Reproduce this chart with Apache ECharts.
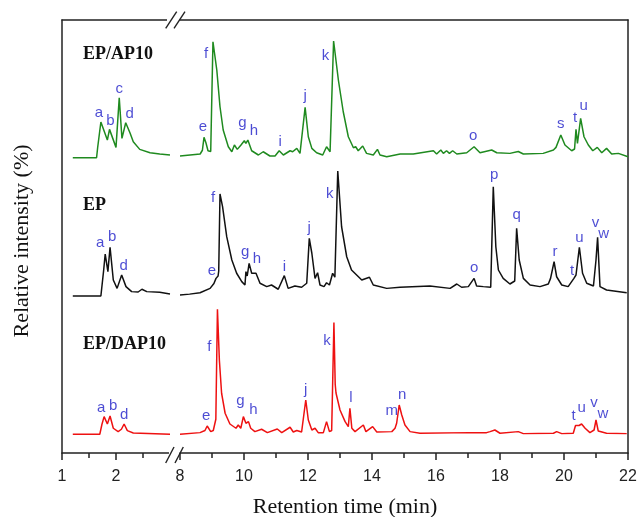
<!DOCTYPE html>
<html>
<head>
<meta charset="utf-8">
<script src="https://cdn.jsdelivr.net/npm/echarts@6/dist/echarts.min.js"></script>
<style>
  html, body { margin: 0; padding: 0; background: #fff; }
  #chart { width: 640px; height: 517px; }
</style>
</head>
<body>
<div id="chart"></div>
<script>
// Retention-time windows of the broken x axis (min)
const timeRangeLeft = [1, 3];
const timeRangeRight = [8, 22];
const tickValuesLeft = [1, 2];
const tickStepRight = 2;

const sampleNames = ['EP/AP10', 'EP', 'EP/DAP10'];

// Chromatograms: [retention time (min), relative intensity (%)]
const apLeft = [
  [1.20, 0], [1.64, 0], [1.66, 8], [1.72, 28.6], [1.84, 14.2], [1.88, 22.7], [2.00, 8.3],
  [2.06, 48], [2.11, 15.5], [2.18, 28], [2.26, 19.8], [2.32, 12.8], [2.44, 6.7], [2.63, 4],
  [2.81, 3], [3.00, 2.2]
];
const apRight = [
  [8.00, 1.4], [8.63, 3], [8.70, 6], [8.75, 16.3], [8.81, 12], [8.875, 5.6], [8.96, 5],
  [9.03, 92.8], [9.15, 70.2], [9.25, 40.8], [9.35, 22.2], [9.51, 8.8], [9.62, 4.8], [9.70, 10.2],
  [9.79, 6.7], [9.90, 10], [10.01, 13.6], [10.06, 11.5], [10.12, 14.2], [10.24, 5.6], [10.45, 2.2],
  [10.60, 4.8], [10.81, 1.4], [10.97, 1.4], [11.10, 5.6], [11.23, 2.2], [11.44, 5.6], [11.52, 4.8],
  [11.65, 7.5], [11.75, 3.5], [11.91, 40.3], [12.01, 16.8], [12.12, 7.5], [12.27, 4], [12.46, 2.2],
  [12.58, 8.8], [12.69, 4.8], [12.80, 93.4], [12.95, 62], [13.10, 37], [13.26, 16.8], [13.42, 8],
  [13.49, 8.8], [13.57, 5.6], [13.71, 9.4], [13.83, 3.5], [14.04, 2.2], [14.17, 6.7], [14.25, 2.2],
  [14.46, 0.8], [14.88, 3], [15.29, 3], [15.92, 5.6], [16.02, 3], [16.15, 6.2], [16.23, 3.5],
  [16.33, 5.6], [16.42, 3.5], [16.52, 5.6], [16.65, 3], [16.96, 4], [17.19, 8.8], [17.375, 4],
  [17.74, 6.2], [17.90, 4], [18.31, 3.5], [18.57, 5], [18.73, 3], [19.35, 3.5], [19.67, 6.2],
  [19.75, 8.3], [19.90, 18.2], [20.03, 10.2], [20.24, 5.6], [20.33, 7], [20.375, 22.7], [20.42, 11.5],
  [20.52, 31.5], [20.625, 16.8], [20.76, 10.2], [20.90, 5.6], [21.04, 8.3], [21.18, 4], [21.33, 7.5],
  [21.49, 3], [21.70, 3.5], [22.00, 0.8]
];

const epLeft = [
  [1.20, 0], [1.72, 0], [1.77, 20], [1.80, 33.6], [1.85, 19.5], [1.89, 39], [1.95, 12.8],
  [2.02, 6.1], [2.105, 16.8], [2.185, 7.5], [2.29, 3.5], [2.41, 3.2], [2.48, 5.4], [2.57, 3.5],
  [2.81, 3], [3.00, 1.6]
];
const epRight = [
  [8.00, 0.8], [8.30, 1.5], [8.625, 2.6], [8.94, 6.1], [9.06, 10], [9.125, 14.1], [9.19, 16],
  [9.21, 20], [9.25, 81.6], [9.33, 71.5], [9.46, 47.5], [9.62, 28.8], [9.77, 18.2], [9.93, 11.5],
  [10.03, 8.8], [10.06, 19.5], [10.10, 16], [10.16, 26.1], [10.24, 18.2], [10.30, 17], [10.375, 18.2],
  [10.50, 10.2], [10.71, 7.5], [10.86, 8.8], [11.07, 5.4], [11.26, 16.3], [11.38, 6.1], [11.59, 8],
  [11.80, 7], [11.96, 10.2], [12.04, 46.1], [12.12, 34.2], [12.22, 14.1], [12.30, 18.6], [12.375, 8.8],
  [12.50, 7.5], [12.58, 10.6], [12.67, 8.8], [12.77, 18.2], [12.84, 15], [12.93, 100], [13.05, 55.4],
  [13.21, 31.4], [13.36, 20.8], [13.52, 16.8], [13.68, 12.8], [13.92, 15], [14.04, 8.8], [14.46, 6.1],
  [14.875, 7], [15.81, 8], [16.44, 6.1], [16.65, 9.6], [16.80, 7], [17.01, 7.5], [17.19, 14.1],
  [17.27, 8], [17.48, 7.5], [17.71, 7], [17.79, 87.4], [17.87, 39.4], [17.95, 20.8], [18.10, 14.1],
  [18.31, 9.6], [18.46, 12], [18.52, 54.1], [18.60, 28.8], [18.73, 14.1], [18.94, 8.8], [19.25, 7.5],
  [19.51, 9.6], [19.58, 14.1], [19.69, 27.4], [19.77, 15.4], [19.93, 8.8], [20.13, 7.5], [20.31, 14.1],
  [20.375, 16.8], [20.48, 39], [20.58, 18.2], [20.71, 10.2], [20.92, 8], [21.00, 28.8], [21.05, 46.9],
  [21.125, 7.5], [21.33, 4.8], [21.96, 2.6]
];

const dapLeft = [
  [1.20, 0], [1.70, 0], [1.74, 8], [1.78, 14.1], [1.84, 8.2], [1.89, 14.6], [1.95, 4.8],
  [2.04, 2.1], [2.10, 4], [2.15, 8.2], [2.21, 2.9], [2.32, 1], [3.00, 0]
];
const dapRight = [
  [8.00, 0], [8.625, 1.3], [8.78, 3], [8.85, 6.6], [8.96, 2.1], [9.04, 3], [9.12, 12],
  [9.17, 100], [9.23, 59.4], [9.30, 32.8], [9.41, 16.8], [9.56, 8.2], [9.75, 4.8], [9.82, 7.4],
  [9.90, 4.8], [9.98, 14.1], [10.06, 8.8], [10.14, 10.1], [10.21, 4.8], [10.34, 2.1], [10.55, 4],
  [10.73, 1.3], [11.04, 4.2], [11.18, 1.3], [11.44, 5.6], [11.54, 1.8], [11.65, 3], [11.80, 1.8],
  [11.93, 27.4], [12.01, 11.4], [12.12, 3.4], [12.22, 4.8], [12.32, 1.3], [12.48, 1.3], [12.58, 10.1],
  [12.67, 2.1], [12.74, 3], [12.81, 89.3], [12.85, 40], [12.875, 33], [13.00, 19.4], [13.16, 10.1],
  [13.26, 6.1], [13.31, 20.8], [13.37, 4.8], [13.47, 2.1], [13.73, 7.4], [13.81, 2.1], [14.02, 6.1],
  [14.15, 1.8], [14.62, 2.1], [14.72, 4.8], [14.77, 8.8], [14.85, 23.4], [14.93, 15.4], [15.03, 7.4],
  [15.19, 2.1], [15.50, 0.8], [17.06, 1.3], [17.58, 1.3], [17.69, 2.1], [17.84, 3.4], [18.00, 0.8],
  [18.57, 2.1], [18.73, 0.5], [19.67, 0.8], [19.77, 2.1], [19.93, 0.5], [20.29, 0.8], [20.36, 7],
  [20.39, 8.2], [20.47, 7], [20.55, 8.2], [20.66, 4.8], [20.81, 1.3], [20.94, 3.4], [21.00, 11.4],
  [21.07, 2.6], [21.33, 0.8], [21.96, 0.5]
];

// Peak assignments: [letter, retention time of the peak (min)]
const apPeaks = [
  ['a', 1.72], ['b', 1.88], ['c', 2.06], ['d', 2.18], ['e', 8.75], ['f', 9.03], ['g', 10.01],
  ['h', 10.12], ['i', 11.10], ['j', 11.91], ['k', 12.80], ['o', 17.19], ['s', 19.90], ['t', 20.375],
  ['u', 20.52]
];
const epPeaks = [
  ['a', 1.80], ['b', 1.89], ['d', 2.105], ['e', 9.125], ['f', 9.25], ['g', 10.16], ['h', 10.375],
  ['i', 11.26], ['j', 12.04], ['k', 12.93], ['o', 17.19], ['p', 17.79], ['q', 18.52], ['r', 19.69],
  ['t', 20.375], ['u', 20.48], ['v', 21.05], ['w', 21.05]
];
const dapPeaks = [
  ['a', 1.78], ['b', 1.89], ['d', 2.15], ['e', 8.85], ['f', 9.17], ['g', 9.98], ['h', 10.14],
  ['j', 11.93], ['k', 12.81], ['l', 13.31], ['m', 14.77], ['n', 14.85], ['t', 20.39], ['u', 20.55],
  ['v', 21.00], ['w', 21.00]
];

// ---- layout and styling ----
const Y_MAX = 346.4;                 // full height of the plot in intensity units
const traceOffset = [236.2, 125.6, 15.0];
const traceColor = ['#1f8a1f', '#111111', '#ee1111'];
const peakLabelColor = '#1e1ec8';

// pixel nudges of each peak letter from its peak apex
const labelNudge = [
  { a: [-2, -9], b: [1, -9], c: [0, -9], d: [4, -9], e: [-1, -11], f: [-7, 12], g: [-2, -18],
    h: [6, -9], i: [1, -9], j: [0, -12], k: [-8, 15], o: [-1, -11], s: [0, -11], t: [-1, -12], u: [3, -13] },
  { a: [-5, -11], b: [2, -10], d: [2, -9], e: [-4, -8], f: [-7, 4], g: [-4, -12], h: [1, -14],
    i: [0, -9], j: [0, -11], k: [-8, 23], o: [0, -11], p: [1, -12], q: [0, -14], r: [1, -10],
    t: [-4, -4], u: [0, -9], v: [-2, -15], w: [6, -4] },
  { a: [-3, -9], b: [3, -10], d: [0, -9], e: [-1, -10], f: [-8, 38], g: [-3, -16], h: [5, -12],
    j: [0, -10], k: [-7, 18], l: [1, -10], m: [-5, -12], n: [3, -10], t: [-3, -8], u: [0, -16],
    v: [-2, -17], w: [7, -6] }
];

const traces = [
  { left: apLeft, right: apRight, peaks: apPeaks },
  { left: epLeft, right: epRight, peaks: epPeaks },
  { left: dapLeft, right: dapRight, peaks: dapPeaks }
];

function levelAt(seg, t) {
  let best = seg[0];
  for (const p of seg) if (Math.abs(p[0] - t) < Math.abs(best[0] - t)) best = p;
  return best[1];
}

const axisColor = '#222';
const series = [];
traces.forEach((tr, i) => {
  [[tr.left, 0], [tr.right, 1]].forEach(([seg, g]) => {
    series.push({
      type: 'line', xAxisIndex: g, yAxisIndex: g,
      data: seg.map(([t, v]) => [t, traceOffset[i] + v]),
      showSymbol: false, clip: true, silent: true,
      lineStyle: { color: traceColor[i], width: 1.5 },
      z: 3
    });
    const onSeg = tr.peaks.filter(([, t]) => (g === 0 ? t < 5 : t >= 5));
    series.push({
      type: 'scatter', xAxisIndex: g, yAxisIndex: g, silent: true,
      symbolSize: 1, itemStyle: { color: 'rgba(0,0,0,0)' },
      data: onSeg.map(([name, t]) => ({
        name,
        value: [t, traceOffset[i] + levelAt(seg, t)],
        label: { offset: labelNudge[i][name] || [0, -10] }
      })),
      label: {
        show: true, position: 'inside', formatter: '{b}',
        color: peakLabelColor, fontSize: 15, fontFamily: 'Liberation Sans, Arial, sans-serif'
      },
      z: 4
    });
  });
});

const tickLabelStyle = {
  color: axisColor, fontSize: 16, fontFamily: 'Liberation Sans, Arial, sans-serif', margin: 16
};

const option = {
  animation: false,
  backgroundColor: '#fff',
  grid: [
    { left: 62, top: 20, width: 108, height: 433 },
    { left: 180, top: 20, width: 448, height: 433 }
  ],
  xAxis: [
    {
      gridIndex: 0, type: 'value', position: 'bottom',
      min: timeRangeLeft[0], max: timeRangeLeft[1], interval: 1,
      axisLine: { show: true, onZero: false, lineStyle: { color: axisColor, width: 1.5 } },
      axisTick: { show: true, length: 7, customValues: tickValuesLeft, lineStyle: { color: axisColor, width: 1.5 } },
      minorTick: { show: true, splitNumber: 2, length: 5, lineStyle: { color: axisColor, width: 1.5 } },
      axisLabel: Object.assign({ customValues: tickValuesLeft, formatter: v => (v < 2.5 ? String(v) : '') }, tickLabelStyle),
      splitLine: { show: false }
    },
    {
      gridIndex: 1, type: 'value', position: 'bottom',
      min: timeRangeRight[0], max: timeRangeRight[1], interval: tickStepRight,
      axisLine: { show: true, onZero: false, lineStyle: { color: axisColor, width: 1.5 } },
      axisTick: { show: true, length: 7, lineStyle: { color: axisColor, width: 1.5 } },
      minorTick: { show: true, splitNumber: 2, length: 5, lineStyle: { color: axisColor, width: 1.5 } },
      axisLabel: tickLabelStyle,
      splitLine: { show: false }
    },
    {
      gridIndex: 0, type: 'value', position: 'top',
      min: timeRangeLeft[0], max: timeRangeLeft[1],
      axisLine: { show: true, onZero: false, lineStyle: { color: axisColor, width: 1.5 } },
      axisTick: { show: false }, axisLabel: { show: false }, splitLine: { show: false }
    },
    {
      gridIndex: 1, type: 'value', position: 'top',
      min: timeRangeRight[0], max: timeRangeRight[1],
      axisLine: { show: true, onZero: false, lineStyle: { color: axisColor, width: 1.5 } },
      axisTick: { show: false }, axisLabel: { show: false }, splitLine: { show: false }
    }
  ],
  yAxis: [
    {
      gridIndex: 0, type: 'value', position: 'left', min: 0, max: Y_MAX,
      axisLine: { show: true, onZero: false, lineStyle: { color: axisColor, width: 1.5 } },
      axisTick: { show: false }, axisLabel: { show: false }, splitLine: { show: false }
    },
    {
      gridIndex: 1, type: 'value', position: 'right', min: 0, max: Y_MAX,
      axisLine: { show: true, onZero: false, lineStyle: { color: axisColor, width: 1.5 } },
      axisTick: { show: false }, axisLabel: { show: false }, splitLine: { show: false }
    }
  ],
  series,
  graphic: [
    // axis break: blank the gap, then draw the double slashes
    { type: 'rect', z: 50, shape: { x: 169, y: 444, width: 10, height: 20 }, style: { fill: '#fff' } },
    { type: 'rect', z: 50, shape: { x: 167, y: 12, width: 12, height: 17 }, style: { fill: '#fff' } },
    { type: 'line', z: 51, shape: { x1: 165.7, y1: 463, x2: 174, y2: 447 }, style: { stroke: axisColor, lineWidth: 1.4 } },
    { type: 'line', z: 51, shape: { x1: 175, y1: 463, x2: 183.3, y2: 447 }, style: { stroke: axisColor, lineWidth: 1.4 } },
    { type: 'line', z: 51, shape: { x1: 165.7, y1: 28.3, x2: 176.7, y2: 11.7 }, style: { stroke: axisColor, lineWidth: 1.4 } },
    { type: 'line', z: 51, shape: { x1: 174, y1: 28.3, x2: 185, y2: 11.7 }, style: { stroke: axisColor, lineWidth: 1.4 } },
    // sample names
    { type: 'text', z: 60, x: 83, y: 54, style: { text: sampleNames[0], fill: '#111', font: 'bold 18px "Liberation Serif", "Times New Roman", serif', textVerticalAlign: 'middle' } },
    { type: 'text', z: 60, x: 83, y: 205, style: { text: sampleNames[1], fill: '#111', font: 'bold 18px "Liberation Serif", "Times New Roman", serif', textVerticalAlign: 'middle' } },
    { type: 'text', z: 60, x: 83, y: 344, style: { text: sampleNames[2], fill: '#111', font: 'bold 18px "Liberation Serif", "Times New Roman", serif', textVerticalAlign: 'middle' } },
    // axis titles
    { type: 'text', z: 60, x: 345, y: 507, style: { text: 'Retention time (min)', fill: '#111', font: '22px "Liberation Serif", "Times New Roman", serif', textAlign: 'center', textVerticalAlign: 'middle' } },
    { type: 'text', z: 60, x: 22, y: 241, rotation: Math.PI / 2, style: { text: 'Relative intensity (%)', fill: '#111', font: '22px "Liberation Serif", "Times New Roman", serif', textAlign: 'center', textVerticalAlign: 'middle' } }
  ]
};

const chart = echarts.init(document.getElementById('chart'), null, { renderer: 'canvas' });
chart.setOption(option);
</script>
</body>
</html>
